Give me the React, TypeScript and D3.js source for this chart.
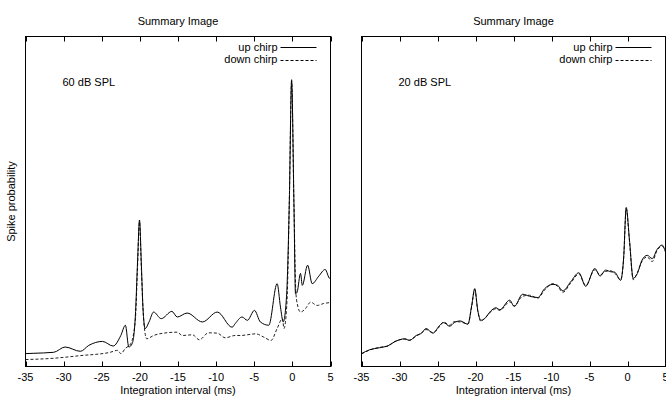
import React, { useEffect, useRef } from 'react';
import * as d3 from 'd3';

// integration interval (ms) -> spike probability (arbitrary units, 0..100 = frame height)
const xTicks = [-35, -30, -25, -20, -15, -10, -5, 0, 5];
const panelTitles = ['Summary Image', 'Summary Image'];
const levelLabels = ['60 dB SPL', '20 dB SPL'];
const seriesNames = ['up chirp', 'down chirp'];

const upChirp60: [number, number][] = [
  [-35, 3.9], [-34, 4.0], [-31.3, 4.3], [-29.8, 5.9], [-27.8, 4.6], [-26.7, 6.4],
  [-24.9, 7.6], [-23.5, 6.2], [-22.5, 9.4], [-21.9, 12.5], [-21.45, 5.9], [-21.0, 7.0],
  [-20.6, 15.0], [-20.3, 32], [-20.05, 44.4], [-19.8, 30.7], [-19.6, 18.0], [-19.3, 11.5],
  [-18.8, 13.5], [-18.2, 16.5], [-17.2, 14.5], [-15.8, 16.7], [-15.1, 15.0], [-13.8, 16.2],
  [-11.8, 13.5], [-9.85, 16.5], [-7.9, 11.9], [-7.5, 13.0], [-6.6, 15.0], [-5.9, 14.0],
  [-4.97, 17.0], [-4.2, 13.5], [-3.1, 12.5], [-2.0, 25.1], [-1.56, 18.0], [-1.2, 13.5],
  [-0.77, 21.1], [-0.4, 50], [-0.1, 86.9], [0.2, 50], [0.41, 22], [0.63, 22.6],
  [1.07, 28.2], [1.3, 24.6], [2.0, 30.7], [2.6, 25.1], [3.47, 27.4], [4.3, 29.4],
  [4.9, 26.7], [5, 26.7],
];

const downChirp60: [number, number][] = [
  [-35, 2.1], [-31.3, 2.5], [-27.8, 3.3], [-23.9, 4.3], [-22.9, 4.9], [-22.5, 3.9],
  [-21.9, 5.5], [-21.2, 6.9], [-20.6, 14], [-20.3, 30.7], [-20.05, 43.8], [-19.8, 29.2],
  [-19.5, 14], [-19.1, 8.4], [-18.2, 9.4], [-16.9, 10.1], [-15.1, 10.4], [-14.45, 9.4],
  [-13.1, 9.6], [-12.2, 8.1], [-11.0, 10.2], [-9.85, 10.1], [-8.8, 8.7], [-7.5, 9.4],
  [-6.8, 9.4], [-4.8, 9.9], [-3.75, 8.9], [-2.8, 7.9], [-2.0, 11.5], [-1.3, 14.5],
  [-1.1, 11.5], [-0.7, 20], [-0.4, 50], [-0.1, 86.3], [0.2, 50], [0.45, 23],
  [0.63, 19.1], [1.07, 16.5], [1.7, 17.5], [2.4, 19.5], [3.25, 18.5], [4.1, 19.1],
  [4.9, 19.4], [5, 19.5],
];

const upChirp20: [number, number][] = [
  [-35, 3.9], [-33.9, 5.1], [-32.6, 5.7], [-31.5, 6.3], [-30.7, 7.4], [-29.3, 8.4],
  [-28.7, 7.9], [-27.8, 9.4], [-27.1, 10.1], [-26.5, 11.5], [-25.6, 10.1], [-24.7, 12.5],
  [-24.2, 13.3], [-23.4, 12.2], [-22.8, 13.3], [-22.0, 13.8], [-21.0, 12.8], [-20.5, 18.5],
  [-20.1, 23.6], [-19.7, 17], [-19.3, 14.0], [-18.8, 14.5], [-18.0, 16.8], [-17.3, 17.8],
  [-16.8, 17.2], [-15.5, 20.1], [-14.9, 18.2], [-13.8, 21.9], [-12.9, 21.3], [-11.8, 20.9],
  [-10.9, 23.6], [-9.8, 24.9], [-9.2, 24.6], [-8.5, 22.9], [-7.5, 25.6], [-6.4, 28.4],
  [-5.5, 24.3], [-4.3, 29.7], [-3.6, 27.4], [-2.9, 29.2], [-2.2, 28.7], [-1.7, 28.6],
  [-0.9, 26.1], [-0.5, 33.2], [-0.17, 48.2], [0.26, 38.3], [0.75, 26.7], [1.3, 28.2],
  [1.9, 32.2], [2.6, 33.7], [3.25, 32.7], [3.9, 35.5], [4.55, 36.8], [5, 34.7],
];

const downChirp20: [number, number][] = [
  [-35, 3.8], [-33.9, 5.0], [-32.6, 5.8], [-31.5, 6.2], [-30.7, 7.5], [-29.3, 8.3],
  [-28.7, 8.0], [-27.8, 9.2], [-27.1, 10.2], [-26.5, 11.2], [-25.6, 10.3], [-24.7, 12.2],
  [-24.2, 13.5], [-23.4, 12.5], [-22.8, 13.6], [-22.0, 13.5], [-21.0, 12.9], [-20.5, 18.2],
  [-20.1, 23.3], [-19.7, 16.8], [-19.3, 13.7], [-18.8, 14.6], [-18.0, 16.5], [-17.3, 17.5],
  [-16.8, 17.0], [-15.5, 19.6], [-14.9, 18.4], [-13.8, 21.3], [-12.9, 21.6], [-11.8, 20.7],
  [-10.9, 23.2], [-9.8, 25.1], [-9.2, 24.3], [-8.5, 22.5], [-7.5, 25.2], [-6.4, 28.0],
  [-5.5, 24.6], [-4.3, 29.3], [-3.6, 27.8], [-2.9, 28.8], [-2.2, 29.0], [-1.7, 28.3],
  [-0.9, 26.4], [-0.5, 33.0], [-0.17, 47.8], [0.26, 38.0], [0.75, 26.3], [1.3, 28.5],
  [1.9, 31.8], [2.6, 33.2], [3.25, 31.8], [3.9, 35.2], [4.55, 36.4], [5, 34.9],
];

const panelData = [
  [upChirp60, downChirp60],
  [upChirp20, downChirp20],
];

const width = 666;
const height = 399;

function App() {
  const svgRef = useRef<SVGSVGElement>(null);

  useEffect(() => {
    const svg = d3.select(svgRef.current);
    svg.selectAll('*').remove();

    const font = 'Liberation Sans, Arial, Helvetica, sans-serif';
    const top = 36.5;
    const bottom = 366.5;
    const panels = [
      { left: 25.5, right: 330.5 },
      { left: 361.5, right: 665.5 },
    ];

    const yScale = d3.scaleLinear().domain([0, 100]).range([bottom, top]);

    // y axis label, only on the left panel
    svg.append('text')
      .attr('transform', `translate(15, ${(top + bottom) / 2}) rotate(-90)`)
      .attr('text-anchor', 'middle')
      .style('font-family', font)
      .style('font-size', '11px')
      .text('Spike probability');

    panels.forEach((p, pi) => {
      const g = svg.append('g');
      const xScale = d3.scaleLinear().domain([-35, 5]).range([p.left, p.right]);
      const mid = (p.left + p.right) / 2;

      g.append('text')
        .attr('x', mid)
        .attr('y', 25)
        .attr('text-anchor', 'middle')
        .style('font-family', font)
        .style('font-size', '11px')
        .text(panelTitles[pi]);

      // frame
      g.append('rect')
        .attr('x', p.left)
        .attr('y', top)
        .attr('width', p.right - p.left)
        .attr('height', bottom - top)
        .attr('fill', 'none')
        .attr('stroke', '#000')
        .attr('stroke-width', 1);

      // mirrored ticks top and bottom
      g.selectAll('.tick-b')
        .data(xTicks)
        .join('line')
        .attr('x1', d => Math.round(xScale(d)) + 0.5)
        .attr('x2', d => Math.round(xScale(d)) + 0.5)
        .attr('y1', bottom)
        .attr('y2', bottom - 5)
        .attr('stroke', '#000');
      g.selectAll('.tick-t')
        .data(xTicks)
        .join('line')
        .attr('x1', d => Math.round(xScale(d)) + 0.5)
        .attr('x2', d => Math.round(xScale(d)) + 0.5)
        .attr('y1', top)
        .attr('y2', top + 5)
        .attr('stroke', '#000');

      g.selectAll('.tick-label')
        .data(xTicks)
        .join('text')
        .attr('x', d => xScale(d))
        .attr('y', 381)
        .attr('text-anchor', 'middle')
        .style('font-family', font)
        .style('font-size', '11px')
        .text(d => String(d));

      g.append('text')
        .attr('x', mid)
        .attr('y', 394)
        .attr('text-anchor', 'middle')
        .style('font-family', font)
        .style('font-size', '11px')
        .text('Integration interval (ms)');

      g.append('text')
        .attr('x', p.left + 37)
        .attr('y', 86)
        .style('font-family', font)
        .style('font-size', '11px')
        .text(levelLabels[pi]);

      const line = d3.line<[number, number]>()
        .x(d => xScale(d[0]))
        .y(d => yScale(d[1]))
        .curve(d3.curveMonotoneX);

      const [up, down] = panelData[pi];

      g.append('path')
        .datum(down)
        .attr('d', line)
        .attr('fill', 'none')
        .attr('stroke', '#222')
        .attr('stroke-width', 1)
        .attr('stroke-dasharray', '3,2');

      g.append('path')
        .datum(up)
        .attr('d', line)
        .attr('fill', 'none')
        .attr('stroke', '#000')
        .attr('stroke-width', 1);

      // legend
      seriesNames.forEach((name, i) => {
        const ly = 47 + i * 12.5;
        g.append('text')
          .attr('x', p.right - 53)
          .attr('y', ly + 3.5)
          .attr('text-anchor', 'end')
          .style('font-family', font)
          .style('font-size', '11px')
          .text(name);
        g.append('line')
          .attr('x1', p.right - 50)
          .attr('x2', p.right - 14)
          .attr('y1', Math.round(ly) + 0.5)
          .attr('y2', Math.round(ly) + 0.5)
          .attr('stroke', '#000')
          .attr('stroke-width', 1)
          .attr('stroke-dasharray', i === 1 ? '3,2' : null);
      });
    });
  }, []);

  return (
    <svg
      ref={svgRef}
      width={width}
      height={height}
      style={{ position: 'absolute', left: 0, top: 0, background: '#fff' }}
    />
  );
}

export default App;
